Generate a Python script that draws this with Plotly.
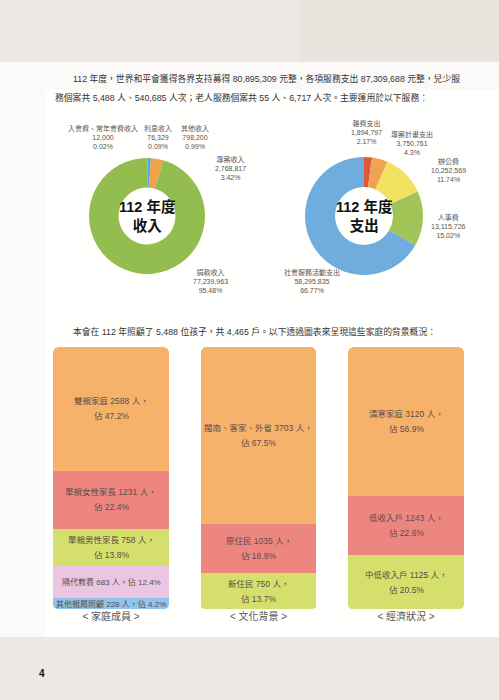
import plotly.graph_objects as go

W, H = 499, 700
FONT = "Liberation Sans, Noto Sans CJK TC, sans-serif"

# ---------------- data ----------------
intro_line1 = "112 年度，世界和平會獲得各界支持募得 80,895,309 元整，各項服務支出 87,309,688 元整，兒少服"
intro_line2 = "務個案共 5,488 人、540,685 人次；老人服務個案共 55 人、6,717 人次。主要運用於以下服務："
intro_line3 = "本會在 112 年照顧了 5,488 位孩子，共 4,465 戶。以下透過圖表來呈現這些家庭的背景概況："

income_labels = ["入會費、常年會費收入", "利息收入", "其他收入", "專案收入", "捐款收入"]
income_values = [12000, 76329, 798200, 2768817, 77239963]
income_pcts = ["0.02%", "0.09%", "0.99%", "3.42%", "95.48%"]
income_colors = ["#e0512f", "#f3e04e", "#5aa6e0", "#eea24a", "#93bd4f"]

expense_labels = ["雜費支出", "專案計畫支出", "辦公費", "人事費", "社會服務活動支出"]
expense_values = [1894797, 3750761, 10252569, 13115726, 58295835]
expense_pcts = ["2.17%", "4.3%", "11.74%", "15.02%", "66.77%"]
expense_colors = ["#e0583a", "#eea552", "#f1e262", "#a0c556", "#70addf"]

categories = ["&lt; 家庭成員 &gt;", "&lt; 文化背景 &gt;", "&lt; 經濟狀況 &gt;"]

family_labels = ["其他親屬照顧", "隔代教養", "單親男性家長", "單親女性家長", "雙親家庭"]
family_counts = [228, 683, 758, 1231, 2588]
family_pcts = [4.2, 12.4, 13.8, 22.4, 47.2]

culture_labels = ["新住民", "原住民", "閩南、客家、外省"]
culture_counts = [750, 1035, 3703]
culture_pcts = [13.7, 18.8, 67.5]

econ_labels = ["中低收入戶", "低收入戶", "清寒家庭"]
econ_counts = [1125, 1243, 3120]
econ_pcts = [20.5, 22.6, 56.9]

family_colors = ["#90c4ea", "#ebc6e2", "#d5e06c", "#ee8680", "#f6b26b"]
three_colors = ["#d5e06c", "#ee8680", "#f6b26b"]
single_line = ["其他親屬照顧", "隔代教養"]

# ---------------- helpers ----------------
def px(x):
    return x / W

def py(y):
    return 1 - y / H

fig = go.Figure()
ann = []

# ---------------- donuts ----------------
def donut(cx, cy, r, labels, values, colors, name):
    fig.add_trace(go.Pie(
        labels=labels, values=values, name=name,
        marker=dict(colors=colors, line=dict(width=0)),
        hole=0.49, sort=False, direction="clockwise", rotation=0,
        textinfo="none", hoverinfo="label+value+percent", showlegend=False,
        domain=dict(x=[px(cx - r), px(cx + r)], y=[py(cy + r), py(cy - r)]),
    ))

donut(147, 216, 58, income_labels, income_values, income_colors, "收入")
donut(364, 216, 59, expense_labels, expense_values, expense_colors, "支出")

# ---------------- stacked bars ----------------
BAR_TOP, BAR_BOT = 347, 609
X_LEFT, X_RIGHT = 37.25, 479.75
BAR_TXT = "#5b4b4b"

groups = [
    (categories[0], family_labels, family_counts, family_pcts, family_colors),
    (categories[1], culture_labels, culture_counts, culture_pcts, three_colors),
    (categories[2], econ_labels, econ_counts, econ_pcts, three_colors),
]
for cat, labs, cnts, pcts, cols in groups:
    base = 0
    for lab, c, p, col in zip(labs, cnts, pcts, cols):
        fig.add_trace(go.Bar(
            x=[cat], y=[c], name=lab, marker=dict(color=col, line=dict(width=0)),
            showlegend=False, hoverinfo="name+y",
        ))
        mid = base + c / 2
        base += c
        if lab in single_line:
            lines = [(f"{lab} {c} 人，佔 {p}%", 0)]
            size = 8
        else:
            lines = [(f"{lab} {c} 人，", 7.5), (f"佔 {p}%", -7.5)]
            size = 8.5
        for s, sh in lines:
            ann.append(dict(x=cat, y=mid, xref="x", yref="y", text=s, showarrow=False,
                            xanchor="center", yanchor="middle", yshift=sh,
                            font=dict(family=FONT, size=size, color=BAR_TXT)))

# ---------------- background shapes ----------------
shapes = [
    dict(type="rect", xref="paper", yref="paper", x0=0, x1=1, y0=py(637), y1=py(62),
         fillcolor="rgba(255,255,255,0.78)", line=dict(width=0), layer="below"),
    dict(type="rect", xref="paper", yref="paper", x0=px(45), x1=1, y0=py(637), y1=py(90),
         fillcolor="rgba(255,255,255,0.85)", line=dict(width=0), layer="below"),
    dict(type="rect", xref="paper", yref="paper", x0=px(300), x1=1, y0=py(62), y1=1,
         fillcolor="rgba(215,208,198,0.18)", line=dict(width=0), layer="below"),
]

# bottom rounded-corner masks
slot = (X_RIGHT - X_LEFT) / 3
bw = slot * (1 - 0.214)
r = 5
for i in range(3):
    cxp = X_LEFT + slot * (i + 0.5)
    x0, x1 = cxp - bw / 2, cxp + bw / 2
    yb = H - BAR_BOT
    for (xc, sgn) in ((x0, 1), (x1, -1)):
        path = (f"M {px(xc)},{yb / H} L {px(xc + sgn * r)},{yb / H} "
                f"Q {px(xc)},{yb / H} {px(xc)},{(yb + r) / H} Z")
        shapes.append(dict(type="path", xref="paper", yref="paper", path=path,
                           fillcolor="white", line=dict(width=0), layer="above"))

# ---------------- annotations ----------------
def text(x, y, s, size=10, color="#333333", xanchor="left", bold=False, align="left"):
    ann.append(dict(x=px(x), y=py(y), xref="paper", yref="paper", text=(f"<b>{s}</b>" if bold else s),
                    showarrow=False, xanchor=xanchor, yanchor="middle", align=align,
                    font=dict(family=FONT, size=size, color=color)))

text(71, 78, intro_line1, size=8.8)
text(53, 97, intro_line2, size=8.8)
text(71, 331, intro_line3, size=8.8)

def fmt(v):
    return f"{v:,}"

income_pos = [(103, 137), (158, 137), (195, 137), (230, 168), (210, 281)]
for (x, y), lab, v, p in zip(income_pos, income_labels, income_values, income_pcts):
    text(x, y, f"{lab}<br>{fmt(v)}<br>{p}", size=7, color="#555555", xanchor="center", align="center")

expense_pos = [(366, 132), (412, 143), (448, 170), (448, 226), (312, 281)]
for (x, y), lab, v, p in zip(expense_pos, expense_labels, expense_values, expense_pcts):
    text(x, y, f"{lab}<br>{fmt(v)}<br>{p}", size=7, color="#555555", xanchor="center", align="center")

text(147, 216, "112 年度<br>收入", size=14.5, color="#111111", xanchor="center", bold=True, align="center")
text(364, 216, "112 年度<br>支出", size=14.5, color="#111111", xanchor="center", bold=True, align="center")

text(37, 673, "4", size=10, color="#111111", bold=True)

fig.update_layout(
    width=W, height=H,
    margin=dict(l=0, r=0, t=0, b=0),
    paper_bgcolor="#ece9e4", plot_bgcolor="rgba(0,0,0,0)",
    barmode="stack", bargap=0.214, barcornerradius=6,
    xaxis=dict(domain=[px(X_LEFT), px(X_RIGHT)], range=[-0.5, 2.5], showgrid=False,
               zeroline=False, showline=False, ticks="", tickfont=dict(family=FONT, size=10, color="#555555"),
               fixedrange=True),
    yaxis=dict(domain=[py(BAR_BOT), py(BAR_TOP)], range=[0, 5488], visible=False, fixedrange=True),
    shapes=shapes, annotations=ann,
    font=dict(family=FONT),
)

fig.write_html("out.html", config={"displayModeBar": False},
               post_script="document.body.style.margin='0';document.body.style.padding='0';document.body.style.overflow='hidden';")
